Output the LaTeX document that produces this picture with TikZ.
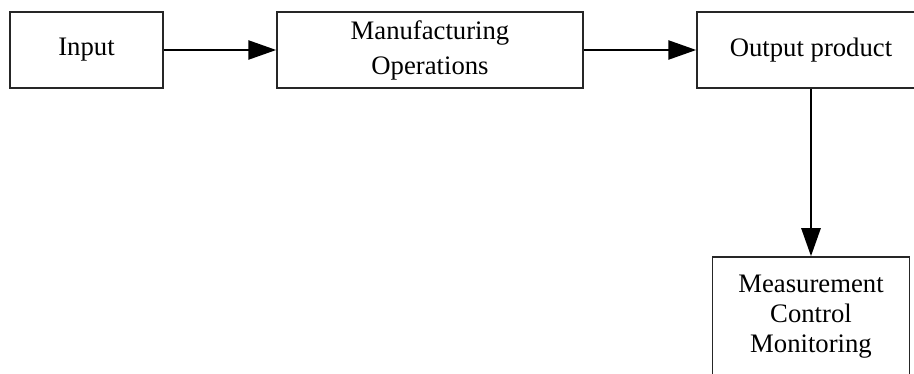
\documentclass[tikz,border=0pt]{standalone}
\usepackage{fontspec}
\setmainfont{Liberation Serif}
\usetikzlibrary{arrows.meta}
\begin{document}
\begin{tikzpicture}[x=1pt,y=-1pt,
  box/.style={draw=black!85, line width=1.5pt, fill=white, inner sep=0pt,
    align=center, font=\fontsize{26.7}{35}\selectfont},
  flow/.style={draw=black, line width=2.6pt,
    -{Triangle[length=28pt,width=19pt]}}]
  \useasboundingbox (0,0) rectangle (914,374);
  \clip (0,0) rectangle (914,374);

  % process boxes
  \node[box, minimum width=153pt, minimum height=76pt] (input) at (86.5,50) {Input};
  \node[box, minimum width=306pt, minimum height=76pt] (mfg) at (430,50)
    {Manufacturing\\Operations};
  \node[box, minimum width=228pt, minimum height=76pt] (out) at (811,50) {Output product};
  \node[box, minimum width=197pt, minimum height=120pt,
    font=\fontsize{26.7}{30}\selectfont] (mcm) at (811,317)
    {Measurement\\Control\\Monitoring};

  % flow arrows
  \draw[flow] (input.east) -- (mfg.west);
  \draw[flow] (mfg.east) -- (out.west);
  \draw[flow] (out.south) -- (mcm.north);
\end{tikzpicture}
\end{document}
